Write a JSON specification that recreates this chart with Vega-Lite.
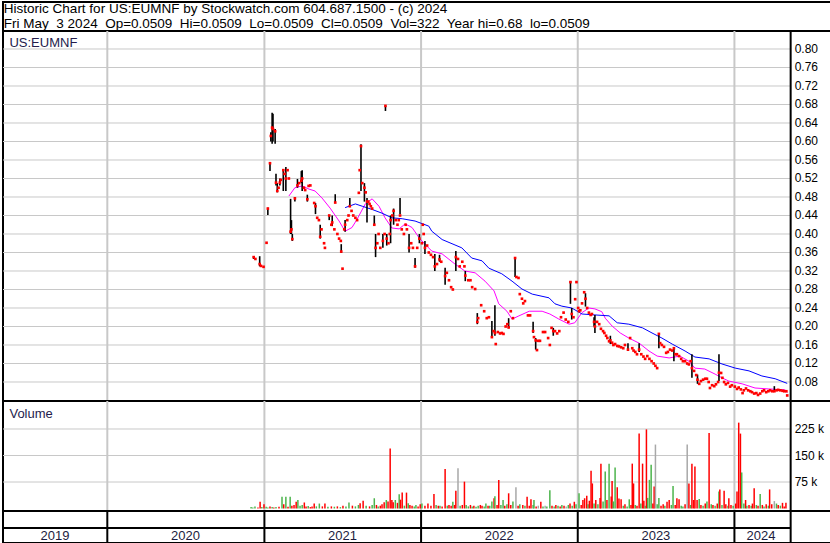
{
  "$schema": "https://vega.github.io/schema/vega-lite/v6.json",
  "padding": 1,
  "spacing": 0,
  "bounds": "flush",
  "background": "#ffffff",
  "resolve": {"scale": {"color": "independent"}},
  "config": {
    "font": "Liberation Sans",
    "view": {"stroke": "#000000", "strokeWidth": 2},
    "text": {"font": "Liberation Sans", "fontSize": 12}
  },
  "datasets": {
    "header": [
      {"row": 1, "txt": "Historic Chart for US:EUMNF by Stockwatch.com 604.687.1500 - (c) 2024"},
      {"row": 2, "txt": "Fri May\u00a0 3 2024\u00a0 Op=0.0509\u00a0 Hi=0.0509\u00a0 Lo=0.0509\u00a0 Cl=0.0509\u00a0 Vol=322\u00a0 Year hi=0.68\u00a0 lo=0.0509"}
    ],
    "pgrid": [
      {"p": 0.08}, {"p": 0.12}, {"p": 0.16}, {"p": 0.20}, {"p": 0.24}, {"p": 0.28}, {"p": 0.32},
      {"p": 0.36}, {"p": 0.40}, {"p": 0.44}, {"p": 0.48}, {"p": 0.52}, {"p": 0.56}, {"p": 0.60},
      {"p": 0.64}, {"p": 0.68}, {"p": 0.72}, {"p": 0.76}, {"p": 0.80}
    ],
    "vgrid": [{"v": 75000, "lab": "75 k"}, {"v": 150000, "lab": "150 k"}, {"v": 225000, "lab": "225 k"}],
    "yearstarts": [{"d": "2020-01-01"}, {"d": "2021-01-01"}, {"d": "2022-01-01"}, {"d": "2023-01-01"}, {"d": "2024-01-01"}],
    "edge": [{"d": "2024-05-11"}],
    "yearlabels": [
      {"d": "2019-09-01", "yr": "2019"},
      {"d": "2020-07-01", "yr": "2020"},
      {"d": "2021-07-02", "yr": "2021"},
      {"d": "2022-07-02", "yr": "2022"},
      {"d": "2023-07-02", "yr": "2023"},
      {"d": "2024-03-03", "yr": "2024"}
    ],
    "prices": [
      {"d":"2020-12-07","h":0.352,"l":0.346,"c":0.35},
      {"d":"2020-12-11","c":0.346},
      {"d":"2020-12-21","h":0.352,"l":0.33,"c":0.335},
      {"d":"2020-12-24","c":0.331},
      {"d":"2020-12-30","c":0.329},
      {"d":"2021-01-06","c":0.381},
      {"d":"2021-01-09","h":0.457,"l":0.441,"c":0.455},
      {"d":"2021-01-14","h":0.553,"l":0.536,"c":0.553},
      {"d":"2021-01-16","h":0.62,"l":0.6,"c":0.612},
      {"d":"2021-01-19","h":0.662,"l":0.595,"c":0.63},
      {"d":"2021-01-21","h":0.66,"l":0.6,"c":0.627},
      {"d":"2021-01-26","h":0.627,"l":0.595,"c":0.622},
      {"d":"2021-01-28","h":0.53,"l":0.505,"c":0.511},
      {"d":"2021-01-31","h":0.51,"l":0.49,"c":0.493},
      {"d":"2021-02-03","c":0.5},
      {"d":"2021-02-06","h":0.52,"l":0.505,"c":0.511},
      {"d":"2021-02-08","c":0.517},
      {"d":"2021-02-14","h":0.54,"l":0.493,"c":0.538},
      {"d":"2021-02-17","c":0.53},
      {"d":"2021-02-20","h":0.545,"l":0.493,"c":0.52},
      {"d":"2021-02-24","c":0.538},
      {"d":"2021-02-27","c":0.52},
      {"d":"2021-03-03","h":0.476,"l":0.4,"c":0.405},
      {"d":"2021-03-05","h":0.43,"l":0.4,"c":0.41},
      {"d":"2021-03-07","h":0.4,"l":0.385,"c":0.389},
      {"d":"2021-03-13","h":0.48,"l":0.47,"c":0.477},
      {"d":"2021-03-19","h":0.519,"l":0.5,"c":0.505},
      {"d":"2021-03-23","c":0.51},
      {"d":"2021-03-28","h":0.536,"l":0.51,"c":0.515},
      {"d":"2021-03-30","h":0.538,"l":0.493,"c":0.52},
      {"d":"2021-04-03","c":0.5},
      {"d":"2021-04-06","c":0.495},
      {"d":"2021-04-11","h":0.485,"l":0.47,"c":0.475},
      {"d":"2021-04-14","c":0.504},
      {"d":"2021-04-18","c":0.505},
      {"d":"2021-04-27","c":0.467},
      {"d":"2021-04-30","h":0.467,"l":0.443,"c":0.46},
      {"d":"2021-05-04","c":0.435},
      {"d":"2021-05-08","c":0.43},
      {"d":"2021-05-11","h":0.42,"l":0.39,"c":0.394},
      {"d":"2021-05-14","c":0.41},
      {"d":"2021-05-20","c":0.38},
      {"d":"2021-05-22","c":0.37},
      {"d":"2021-06-01","h":0.44,"l":0.43,"c":0.44},
      {"d":"2021-06-06","c":0.42},
      {"d":"2021-06-08","h":0.44,"l":0.417,"c":0.425},
      {"d":"2021-06-13","c":0.41},
      {"d":"2021-06-15","h":0.486,"l":0.467,"c":0.468},
      {"d":"2021-06-20","c":0.4},
      {"d":"2021-06-24","c":0.39},
      {"d":"2021-06-28","c":0.385},
      {"d":"2021-06-29","h":0.378,"l":0.359,"c":0.362},
      {"d":"2021-07-02","c":0.325},
      {"d":"2021-07-06","c":0.41},
      {"d":"2021-07-08","h":0.43,"l":0.405,"c":0.42},
      {"d":"2021-07-13","c":0.43},
      {"d":"2021-07-16","c":0.44},
      {"d":"2021-07-19","h":0.478,"l":0.46,"c":0.46},
      {"d":"2021-07-23","c":0.45},
      {"d":"2021-07-27","c":0.44},
      {"d":"2021-08-01","c":0.435},
      {"d":"2021-08-05","c":0.43},
      {"d":"2021-08-09","c":0.489},
      {"d":"2021-08-11","c":0.538},
      {"d":"2021-08-14","h":0.594,"l":0.493,"c":0.59},
      {"d":"2021-08-17","c":0.51},
      {"d":"2021-08-22","h":0.51,"l":0.47,"c":0.5},
      {"d":"2021-08-25","c":0.49},
      {"d":"2021-08-28","h":0.478,"l":0.425,"c":0.47},
      {"d":"2021-08-31","c":0.47},
      {"d":"2021-09-03","c":0.465},
      {"d":"2021-09-06","c":0.46},
      {"d":"2021-09-09","c":0.455},
      {"d":"2021-09-14","h":0.44,"l":0.42,"c":0.42},
      {"d":"2021-09-17","h":0.4,"l":0.35,"c":0.37},
      {"d":"2021-09-21","c":0.38},
      {"d":"2021-09-24","c":0.4},
      {"d":"2021-09-28","c":0.37},
      {"d":"2021-10-04","h":0.4,"l":0.37,"c":0.385},
      {"d":"2021-10-08","c":0.4},
      {"d":"2021-10-10","h":0.677,"l":0.666,"c":0.677},
      {"d":"2021-10-13","h":0.4,"l":0.375,"c":0.39},
      {"d":"2021-10-17","c":0.38},
      {"d":"2021-10-20","c":0.4},
      {"d":"2021-10-22","h":0.44,"l":0.38,"c":0.43},
      {"d":"2021-10-26","c":0.44},
      {"d":"2021-10-29","h":0.455,"l":0.42,"c":0.45},
      {"d":"2021-11-03","c":0.43},
      {"d":"2021-11-07","c":0.42},
      {"d":"2021-11-10","c":0.43},
      {"d":"2021-11-13","h":0.478,"l":0.443,"c":0.44},
      {"d":"2021-11-17","c":0.41},
      {"d":"2021-11-22","c":0.4},
      {"d":"2021-11-26","c":0.42},
      {"d":"2021-11-29","c":0.41},
      {"d":"2021-12-04","h":0.4,"l":0.36,"c":0.37},
      {"d":"2021-12-09","c":0.38},
      {"d":"2021-12-13","c":0.37},
      {"d":"2021-12-18","h":0.348,"l":0.327,"c":0.33},
      {"d":"2021-12-23","c":0.37},
      {"d":"2021-12-28","h":0.4,"l":0.38,"c":0.39},
      {"d":"2022-01-03","c":0.38},
      {"d":"2022-01-05","c":0.42},
      {"d":"2022-01-07","c":0.4},
      {"d":"2022-01-10","h":0.385,"l":0.357,"c":0.37},
      {"d":"2022-01-15","c":0.375},
      {"d":"2022-01-19","c":0.36},
      {"d":"2022-01-24","c":0.355},
      {"d":"2022-01-29","c":0.35},
      {"d":"2022-02-02","h":0.357,"l":0.32,"c":0.33},
      {"d":"2022-02-07","c":0.335},
      {"d":"2022-02-13","h":0.355,"l":0.34,"c":0.345},
      {"d":"2022-02-17","c":0.34},
      {"d":"2022-02-26","h":0.327,"l":0.29,"c":0.309},
      {"d":"2022-03-02","c":0.316},
      {"d":"2022-03-07","c":0.3},
      {"d":"2022-03-12","c":0.285},
      {"d":"2022-03-16","c":0.28},
      {"d":"2022-03-23","h":0.363,"l":0.32,"c":0.35},
      {"d":"2022-03-28","c":0.346},
      {"d":"2022-04-01","c":0.33},
      {"d":"2022-04-07","c":0.34},
      {"d":"2022-04-12","c":0.33},
      {"d":"2022-04-14","h":0.32,"l":0.298,"c":0.31},
      {"d":"2022-04-21","c":0.3},
      {"d":"2022-04-26","c":0.3},
      {"d":"2022-04-30","c":0.285},
      {"d":"2022-05-07","c":0.281},
      {"d":"2022-05-12","h":0.229,"l":0.205,"c":0.21},
      {"d":"2022-05-14","c":0.218},
      {"d":"2022-05-21","c":0.246},
      {"d":"2022-05-28","c":0.233},
      {"d":"2022-06-03","c":0.218},
      {"d":"2022-06-08","c":0.22},
      {"d":"2022-06-15","h":0.212,"l":0.177,"c":0.177},
      {"d":"2022-06-19","c":0.19},
      {"d":"2022-06-22","h":0.246,"l":0.18,"c":0.186},
      {"d":"2022-06-24","c":0.162},
      {"d":"2022-06-29","c":0.188},
      {"d":"2022-07-04","c":0.185},
      {"d":"2022-07-08","c":0.186},
      {"d":"2022-07-12","c":0.184},
      {"d":"2022-07-17","c":0.2},
      {"d":"2022-07-21","c":0.205},
      {"d":"2022-07-24","h":0.218,"l":0.196,"c":0.198},
      {"d":"2022-07-29","c":0.233},
      {"d":"2022-08-03","c":0.218},
      {"d":"2022-08-08","h":0.348,"l":0.307,"c":0.348},
      {"d":"2022-08-11","c":0.307},
      {"d":"2022-08-16","c":0.305},
      {"d":"2022-08-19","c":0.27},
      {"d":"2022-08-24","c":0.26},
      {"d":"2022-08-27","c":0.25},
      {"d":"2022-08-31","c":0.255},
      {"d":"2022-09-07","c":0.224},
      {"d":"2022-09-12","c":0.224},
      {"d":"2022-09-19","h":0.21,"l":0.186,"c":0.19},
      {"d":"2022-09-21","c":0.177},
      {"d":"2022-09-25","h":0.175,"l":0.15,"c":0.17},
      {"d":"2022-09-28","c":0.149},
      {"d":"2022-10-01","c":0.169},
      {"d":"2022-10-05","c":0.169},
      {"d":"2022-10-12","c":0.188},
      {"d":"2022-10-17","c":0.188},
      {"d":"2022-10-24","c":0.175},
      {"d":"2022-10-28","c":0.16},
      {"d":"2022-11-01","c":0.197},
      {"d":"2022-11-05","h":0.197,"l":0.18,"c":0.19},
      {"d":"2022-11-09","c":0.19},
      {"d":"2022-11-14","c":0.185},
      {"d":"2022-11-19","c":0.19},
      {"d":"2022-11-23","c":0.22},
      {"d":"2022-11-29","c":0.23},
      {"d":"2022-12-04","c":0.215},
      {"d":"2022-12-10","c":0.21},
      {"d":"2022-12-15","h":0.298,"l":0.249,"c":0.296},
      {"d":"2022-12-18","h":0.24,"l":0.215,"c":0.227},
      {"d":"2022-12-22","c":0.22},
      {"d":"2022-12-26","c":0.259},
      {"d":"2022-12-29","c":0.296},
      {"d":"2023-01-02","c":0.24},
      {"d":"2023-01-04","c":0.233},
      {"d":"2023-01-07","c":0.235},
      {"d":"2023-01-11","c":0.25},
      {"d":"2023-01-16","c":0.274},
      {"d":"2023-01-19","h":0.272,"l":0.243,"c":0.26},
      {"d":"2023-01-23","c":0.24},
      {"d":"2023-01-27","c":0.23},
      {"d":"2023-01-31","c":0.225},
      {"d":"2023-02-03","c":0.227},
      {"d":"2023-02-08","h":0.22,"l":0.2,"c":0.21},
      {"d":"2023-02-10","h":0.225,"l":0.186,"c":0.2},
      {"d":"2023-02-15","c":0.21},
      {"d":"2023-02-20","c":0.205},
      {"d":"2023-02-24","c":0.195},
      {"d":"2023-03-01","c":0.19},
      {"d":"2023-03-04","c":0.186},
      {"d":"2023-03-08","c":0.18},
      {"d":"2023-03-11","c":0.175},
      {"d":"2023-03-15","c":0.168},
      {"d":"2023-03-18","h":0.18,"l":0.162,"c":0.17},
      {"d":"2023-03-22","c":0.165},
      {"d":"2023-03-25","c":0.16},
      {"d":"2023-03-29","c":0.162},
      {"d":"2023-04-03","c":0.158},
      {"d":"2023-04-07","c":0.157},
      {"d":"2023-04-12","c":0.155},
      {"d":"2023-04-17","c":0.153},
      {"d":"2023-04-21","c":0.16},
      {"d":"2023-04-28","h":0.164,"l":0.147,"c":0.15},
      {"d":"2023-05-03","c":0.175},
      {"d":"2023-05-08","c":0.153},
      {"d":"2023-05-11","c":0.148},
      {"d":"2023-05-15","c":0.145},
      {"d":"2023-05-19","c":0.14},
      {"d":"2023-05-24","h":0.164,"l":0.145,"c":0.15},
      {"d":"2023-05-29","c":0.14},
      {"d":"2023-06-03","c":0.135},
      {"d":"2023-06-07","c":0.13},
      {"d":"2023-06-12","c":0.136},
      {"d":"2023-06-17","c":0.13},
      {"d":"2023-06-22","c":0.125},
      {"d":"2023-06-27","c":0.12},
      {"d":"2023-07-01","c":0.115},
      {"d":"2023-07-05","c":0.11},
      {"d":"2023-07-09","h":0.184,"l":0.153,"c":0.184},
      {"d":"2023-07-12","c":0.164},
      {"d":"2023-07-16","c":0.16},
      {"d":"2023-07-21","c":0.156},
      {"d":"2023-07-26","c":0.143},
      {"d":"2023-07-30","c":0.145},
      {"d":"2023-08-04","c":0.15},
      {"d":"2023-08-09","c":0.148},
      {"d":"2023-08-13","h":0.153,"l":0.125,"c":0.153},
      {"d":"2023-08-17","c":0.14},
      {"d":"2023-08-20","c":0.14},
      {"d":"2023-08-25","c":0.136},
      {"d":"2023-08-30","c":0.13},
      {"d":"2023-09-03","c":0.125},
      {"d":"2023-09-08","c":0.125},
      {"d":"2023-09-13","c":0.12},
      {"d":"2023-09-17","c":0.118},
      {"d":"2023-09-21","c":0.125},
      {"d":"2023-09-24","h":0.14,"l":0.089,"c":0.11},
      {"d":"2023-09-29","c":0.104},
      {"d":"2023-10-04","c":0.095},
      {"d":"2023-10-07","h":0.096,"l":0.076,"c":0.085},
      {"d":"2023-10-11","c":0.076},
      {"d":"2023-10-15","c":0.082},
      {"d":"2023-10-20","c":0.085},
      {"d":"2023-10-25","c":0.087},
      {"d":"2023-10-29","c":0.087},
      {"d":"2023-11-02","c":0.08},
      {"d":"2023-11-05","c":0.067},
      {"d":"2023-11-10","c":0.073},
      {"d":"2023-11-15","c":0.071},
      {"d":"2023-11-19","c":0.075},
      {"d":"2023-11-24","c":0.08},
      {"d":"2023-11-26","h":0.14,"l":0.082,"c":0.1},
      {"d":"2023-12-01","c":0.0995},
      {"d":"2023-12-04","c":0.089},
      {"d":"2023-12-08","c":0.08},
      {"d":"2023-12-12","c":0.075},
      {"d":"2023-12-17","c":0.078},
      {"d":"2023-12-22","c":0.07},
      {"d":"2023-12-26","c":0.073},
      {"d":"2024-01-02","c":0.07},
      {"d":"2024-01-07","c":0.065},
      {"d":"2024-01-11","c":0.068},
      {"d":"2024-01-16","c":0.064},
      {"d":"2024-01-20","c":0.056},
      {"d":"2024-01-23","c":0.062},
      {"d":"2024-01-28","c":0.066},
      {"d":"2024-02-02","c":0.062},
      {"d":"2024-02-07","c":0.06},
      {"d":"2024-02-11","c":0.058},
      {"d":"2024-02-16","c":0.055},
      {"d":"2024-02-21","c":0.056},
      {"d":"2024-02-25","c":0.052},
      {"d":"2024-03-01","c":0.055},
      {"d":"2024-03-06","c":0.06},
      {"d":"2024-03-10","c":0.062},
      {"d":"2024-03-15","c":0.058},
      {"d":"2024-03-20","c":0.06},
      {"d":"2024-03-24","c":0.062},
      {"d":"2024-03-29","c":0.06},
      {"d":"2024-04-03","h":0.071,"l":0.06,"c":0.06},
      {"d":"2024-04-08","c":0.062},
      {"d":"2024-04-12","c":0.063},
      {"d":"2024-04-17","c":0.062},
      {"d":"2024-04-22","c":0.061},
      {"d":"2024-04-26","c":0.06},
      {"d":"2024-05-01","c":0.06},
      {"d":"2024-05-03","c":0.0509}
    ],
    "averages": [
      {"d":"2021-02-27","p":0.482,"s":"short"},
      {"d":"2021-03-13","p":0.5,"s":"short"},
      {"d":"2021-03-30","p":0.504,"s":"short"},
      {"d":"2021-04-15","p":0.497,"s":"short"},
      {"d":"2021-04-29","p":0.493,"s":"short"},
      {"d":"2021-05-15","p":0.478,"s":"short"},
      {"d":"2021-06-03","p":0.456,"s":"short"},
      {"d":"2021-06-24","p":0.428,"s":"short"},
      {"d":"2021-07-08","p":0.406,"s":"short"},
      {"d":"2021-07-24","p":0.414,"s":"short"},
      {"d":"2021-08-05","p":0.432,"s":"short"},
      {"d":"2021-08-24","p":0.465,"s":"short"},
      {"d":"2021-09-09","p":0.476,"s":"short"},
      {"d":"2021-09-25","p":0.46,"s":"short"},
      {"d":"2021-10-09","p":0.435,"s":"short"},
      {"d":"2021-10-25","p":0.413,"s":"short"},
      {"d":"2021-11-11","p":0.411,"s":"short"},
      {"d":"2021-11-25","p":0.422,"s":"short"},
      {"d":"2021-12-11","p":0.414,"s":"short"},
      {"d":"2021-12-28","p":0.391,"s":"short"},
      {"d":"2022-01-08","p":0.38,"s":"short"},
      {"d":"2022-01-26","p":0.363,"s":"short"},
      {"d":"2022-02-19","p":0.357,"s":"short"},
      {"d":"2022-03-21","p":0.335,"s":"short"},
      {"d":"2022-04-13","p":0.32,"s":"short"},
      {"d":"2022-05-07","p":0.316,"s":"short"},
      {"d":"2022-05-30","p":0.298,"s":"short"},
      {"d":"2022-06-20","p":0.277,"s":"short"},
      {"d":"2022-07-01","p":0.249,"s":"short"},
      {"d":"2022-07-20","p":0.233,"s":"short"},
      {"d":"2022-08-01","p":0.216,"s":"short"},
      {"d":"2022-08-17","p":0.223,"s":"short"},
      {"d":"2022-09-10","p":0.233,"s":"short"},
      {"d":"2022-10-10","p":0.233,"s":"short"},
      {"d":"2022-10-28","p":0.227,"s":"short"},
      {"d":"2022-11-18","p":0.216,"s":"short"},
      {"d":"2022-12-12","p":0.205,"s":"short"},
      {"d":"2022-12-25","p":0.208,"s":"short"},
      {"d":"2023-01-11","p":0.23,"s":"short"},
      {"d":"2023-01-27","p":0.24,"s":"short"},
      {"d":"2023-02-10","p":0.238,"s":"short"},
      {"d":"2023-02-26","p":0.232,"s":"short"},
      {"d":"2023-03-06","p":0.218,"s":"short"},
      {"d":"2023-03-22","p":0.201,"s":"short"},
      {"d":"2023-04-10","p":0.186,"s":"short"},
      {"d":"2023-04-30","p":0.175,"s":"short"},
      {"d":"2023-05-24","p":0.164,"s":"short"},
      {"d":"2023-06-16","p":0.147,"s":"short"},
      {"d":"2023-07-05","p":0.136,"s":"short"},
      {"d":"2023-08-02","p":0.132,"s":"short"},
      {"d":"2023-08-27","p":0.136,"s":"short"},
      {"d":"2023-09-17","p":0.125,"s":"short"},
      {"d":"2023-10-01","p":0.11,"s":"short"},
      {"d":"2023-10-24","p":0.108,"s":"short"},
      {"d":"2023-11-17","p":0.097,"s":"short"},
      {"d":"2023-12-03","p":0.089,"s":"short"},
      {"d":"2023-12-19","p":0.082,"s":"short"},
      {"d":"2024-01-19","p":0.076,"s":"short"},
      {"d":"2024-02-18","p":0.067,"s":"short"},
      {"d":"2024-03-21","p":0.065,"s":"short"},
      {"d":"2024-04-28","p":0.063,"s":"short"},
      {"d":"2024-05-03","p":0.057,"s":"short"},
      {"d":"2021-07-08","p":0.457,"s":"long"},
      {"d":"2021-08-01","p":0.465,"s":"long"},
      {"d":"2021-08-17","p":0.46,"s":"long"},
      {"d":"2021-09-09","p":0.453,"s":"long"},
      {"d":"2021-10-02","p":0.445,"s":"long"},
      {"d":"2021-10-25","p":0.435,"s":"long"},
      {"d":"2021-11-18","p":0.433,"s":"long"},
      {"d":"2021-12-18","p":0.428,"s":"long"},
      {"d":"2022-01-19","p":0.417,"s":"long"},
      {"d":"2022-01-26","p":0.406,"s":"long"},
      {"d":"2022-02-19","p":0.388,"s":"long"},
      {"d":"2022-04-06","p":0.37,"s":"long"},
      {"d":"2022-04-29","p":0.348,"s":"long"},
      {"d":"2022-05-23","p":0.342,"s":"long"},
      {"d":"2022-06-08","p":0.326,"s":"long"},
      {"d":"2022-07-08","p":0.314,"s":"long"},
      {"d":"2022-08-01","p":0.298,"s":"long"},
      {"d":"2022-08-24","p":0.281,"s":"long"},
      {"d":"2022-09-17","p":0.27,"s":"long"},
      {"d":"2022-10-26","p":0.262,"s":"long"},
      {"d":"2022-11-09","p":0.249,"s":"long"},
      {"d":"2022-11-25","p":0.244,"s":"long"},
      {"d":"2022-12-18","p":0.24,"s":"long"},
      {"d":"2023-01-11","p":0.227,"s":"long"},
      {"d":"2023-02-10","p":0.225,"s":"long"},
      {"d":"2023-03-15","p":0.223,"s":"long"},
      {"d":"2023-04-03","p":0.208,"s":"long"},
      {"d":"2023-04-30","p":0.205,"s":"long"},
      {"d":"2023-06-01","p":0.197,"s":"long"},
      {"d":"2023-06-23","p":0.186,"s":"long"},
      {"d":"2023-07-16","p":0.175,"s":"long"},
      {"d":"2023-08-09","p":0.162,"s":"long"},
      {"d":"2023-09-08","p":0.147,"s":"long"},
      {"d":"2023-10-01","p":0.134,"s":"long"},
      {"d":"2023-11-03","p":0.13,"s":"long"},
      {"d":"2023-12-03","p":0.119,"s":"long"},
      {"d":"2024-01-03","p":0.11,"s":"long"},
      {"d":"2024-02-04","p":0.104,"s":"long"},
      {"d":"2024-03-05","p":0.093,"s":"long"},
      {"d":"2024-04-05","p":0.087,"s":"long"},
      {"d":"2024-05-03","p":0.077,"s":"long"}
    ],
    "volumes": [
      {"d":"2020-12-01","v":4000,"t":"up"},
      {"d":"2020-12-05","v":3000,"t":"up"},
      {"d":"2020-12-10","v":6000,"t":"up"},
      {"d":"2020-12-17","v":3000,"t":"down"},
      {"d":"2020-12-22","v":19000,"t":"down"},
      {"d":"2020-12-26","v":4000,"t":"up"},
      {"d":"2020-12-31","v":12000,"t":"down"},
      {"d":"2021-01-05","v":5000,"t":"up"},
      {"d":"2021-01-09","v":3000,"t":"up"},
      {"d":"2021-01-14","v":6000,"t":"down"},
      {"d":"2021-01-19","v":4000,"t":"up"},
      {"d":"2021-01-23","v":3000,"t":"down"},
      {"d":"2021-01-28","v":4000,"t":"up"},
      {"d":"2021-02-04","v":5000,"t":"down"},
      {"d":"2021-02-11","v":33000,"t":"up"},
      {"d":"2021-02-15","v":12000,"t":"down"},
      {"d":"2021-02-20","v":33000,"t":"up"},
      {"d":"2021-02-25","v":5000,"t":"down"},
      {"d":"2021-03-02","v":33000,"t":"up"},
      {"d":"2021-03-06","v":8000,"t":"down"},
      {"d":"2021-03-11","v":10000,"t":"down"},
      {"d":"2021-03-16","v":19000,"t":"down"},
      {"d":"2021-03-20","v":24000,"t":"up"},
      {"d":"2021-03-25","v":8000,"t":"up"},
      {"d":"2021-03-30","v":10000,"t":"up"},
      {"d":"2021-04-04","v":17000,"t":"down"},
      {"d":"2021-04-08","v":6000,"t":"down"},
      {"d":"2021-04-13","v":7000,"t":"up"},
      {"d":"2021-04-18","v":4000,"t":"down"},
      {"d":"2021-04-22","v":6000,"t":"down"},
      {"d":"2021-04-27","v":14000,"t":"down"},
      {"d":"2021-05-02","v":6000,"t":"up"},
      {"d":"2021-05-09","v":14000,"t":"up"},
      {"d":"2021-05-16","v":6000,"t":"down"},
      {"d":"2021-05-22","v":14000,"t":"down"},
      {"d":"2021-05-29","v":5000,"t":"up"},
      {"d":"2021-06-06","v":6000,"t":"down"},
      {"d":"2021-06-13","v":5000,"t":"up"},
      {"d":"2021-06-20","v":6000,"t":"down"},
      {"d":"2021-06-27","v":4000,"t":"up"},
      {"d":"2021-07-03","v":8000,"t":"down"},
      {"d":"2021-07-10","v":6000,"t":"up"},
      {"d":"2021-07-17","v":17000,"t":"up"},
      {"d":"2021-07-25","v":8000,"t":"down"},
      {"d":"2021-08-01","v":6000,"t":"up"},
      {"d":"2021-08-08","v":10000,"t":"up"},
      {"d":"2021-08-12","v":15000,"t":"down"},
      {"d":"2021-08-19","v":22000,"t":"down"},
      {"d":"2021-08-26","v":8000,"t":"up"},
      {"d":"2021-09-03","v":6000,"t":"down"},
      {"d":"2021-09-09","v":10000,"t":"up"},
      {"d":"2021-09-14","v":29000,"t":"up"},
      {"d":"2021-09-19","v":10000,"t":"down"},
      {"d":"2021-09-23","v":6000,"t":"up"},
      {"d":"2021-09-28","v":8000,"t":"down"},
      {"d":"2021-10-02","v":12000,"t":"down"},
      {"d":"2021-10-07","v":18000,"t":"down"},
      {"d":"2021-10-12","v":24000,"t":"up"},
      {"d":"2021-10-16","v":20000,"t":"down"},
      {"d":"2021-10-21","v":170000,"t":"down"},
      {"d":"2021-10-25","v":24000,"t":"down"},
      {"d":"2021-10-28","v":18000,"t":"down"},
      {"d":"2021-11-02","v":24000,"t":"up"},
      {"d":"2021-11-07","v":16000,"t":"down"},
      {"d":"2021-11-11","v":40000,"t":"up"},
      {"d":"2021-11-14","v":25000,"t":"down"},
      {"d":"2021-11-18","v":45000,"t":"down"},
      {"d":"2021-11-23","v":8000,"t":"up"},
      {"d":"2021-11-28","v":45000,"t":"down"},
      {"d":"2021-12-02","v":15000,"t":"up"},
      {"d":"2021-12-06","v":10000,"t":"down"},
      {"d":"2021-12-11","v":8000,"t":"down"},
      {"d":"2021-12-16","v":6000,"t":"up"},
      {"d":"2021-12-20","v":10000,"t":"up"},
      {"d":"2021-12-25","v":6000,"t":"down"},
      {"d":"2021-12-30","v":12000,"t":"down"},
      {"d":"2022-01-03","v":14000,"t":"up"},
      {"d":"2022-01-10","v":8000,"t":"down"},
      {"d":"2022-01-17","v":14000,"t":"down"},
      {"d":"2022-01-24","v":8000,"t":"down"},
      {"d":"2022-01-31","v":41000,"t":"down"},
      {"d":"2022-02-05","v":10000,"t":"up"},
      {"d":"2022-02-10","v":8000,"t":"down"},
      {"d":"2022-02-14","v":8000,"t":"up"},
      {"d":"2022-02-19","v":6000,"t":"down"},
      {"d":"2022-02-26","v":112000,"t":"down"},
      {"d":"2022-03-03","v":8000,"t":"up"},
      {"d":"2022-03-07","v":10000,"t":"down"},
      {"d":"2022-03-12","v":8000,"t":"down"},
      {"d":"2022-03-16","v":19000,"t":"up"},
      {"d":"2022-03-20","v":10000,"t":"down"},
      {"d":"2022-03-23","v":50000,"t":"down"},
      {"d":"2022-03-28","v":114000,"t":"flat"},
      {"d":"2022-04-02","v":8000,"t":"up"},
      {"d":"2022-04-07","v":10000,"t":"down"},
      {"d":"2022-04-12","v":76000,"t":"down"},
      {"d":"2022-04-16","v":10000,"t":"up"},
      {"d":"2022-04-21","v":6000,"t":"up"},
      {"d":"2022-04-26","v":10000,"t":"down"},
      {"d":"2022-04-30","v":6000,"t":"up"},
      {"d":"2022-05-04","v":8000,"t":"down"},
      {"d":"2022-05-09","v":5000,"t":"up"},
      {"d":"2022-05-14","v":8000,"t":"up"},
      {"d":"2022-05-19","v":10000,"t":"down"},
      {"d":"2022-05-23","v":8000,"t":"down"},
      {"d":"2022-05-28","v":6000,"t":"up"},
      {"d":"2022-06-01","v":14000,"t":"up"},
      {"d":"2022-06-06","v":8000,"t":"down"},
      {"d":"2022-06-10","v":8000,"t":"up"},
      {"d":"2022-06-15","v":20000,"t":"up"},
      {"d":"2022-06-20","v":29000,"t":"down"},
      {"d":"2022-06-22","v":35000,"t":"up"},
      {"d":"2022-06-27","v":10000,"t":"down"},
      {"d":"2022-07-01","v":81000,"t":"down"},
      {"d":"2022-07-06","v":10000,"t":"up"},
      {"d":"2022-07-11","v":24000,"t":"up"},
      {"d":"2022-07-15","v":8000,"t":"down"},
      {"d":"2022-07-20","v":12000,"t":"up"},
      {"d":"2022-07-24","v":43000,"t":"down"},
      {"d":"2022-07-29","v":10000,"t":"down"},
      {"d":"2022-08-03","v":20000,"t":"up"},
      {"d":"2022-08-10","v":60000,"t":"flat"},
      {"d":"2022-08-15","v":8000,"t":"down"},
      {"d":"2022-08-19","v":12000,"t":"up"},
      {"d":"2022-08-26","v":10000,"t":"down"},
      {"d":"2022-08-31","v":8000,"t":"up"},
      {"d":"2022-09-05","v":33000,"t":"down"},
      {"d":"2022-09-10","v":8000,"t":"down"},
      {"d":"2022-09-14","v":26000,"t":"down"},
      {"d":"2022-09-19","v":10000,"t":"up"},
      {"d":"2022-09-21","v":24000,"t":"up"},
      {"d":"2022-09-26","v":6000,"t":"down"},
      {"d":"2022-10-01","v":8000,"t":"flat"},
      {"d":"2022-10-07","v":19000,"t":"down"},
      {"d":"2022-10-12","v":6000,"t":"up"},
      {"d":"2022-10-17","v":8000,"t":"flat"},
      {"d":"2022-10-21","v":6000,"t":"up"},
      {"d":"2022-10-28","v":52000,"t":"up"},
      {"d":"2022-11-02","v":8000,"t":"down"},
      {"d":"2022-11-07","v":6000,"t":"up"},
      {"d":"2022-11-11","v":10000,"t":"down"},
      {"d":"2022-11-16","v":8000,"t":"up"},
      {"d":"2022-11-21","v":6000,"t":"down"},
      {"d":"2022-11-25","v":10000,"t":"up"},
      {"d":"2022-11-30","v":8000,"t":"down"},
      {"d":"2022-12-05","v":6000,"t":"flat"},
      {"d":"2022-12-10","v":10000,"t":"up"},
      {"d":"2022-12-14","v":14000,"t":"down"},
      {"d":"2022-12-19","v":8000,"t":"up"},
      {"d":"2022-12-24","v":19000,"t":"down"},
      {"d":"2022-12-28","v":12000,"t":"up"},
      {"d":"2023-01-04","v":43000,"t":"up"},
      {"d":"2023-01-09","v":10000,"t":"down"},
      {"d":"2023-01-13","v":24000,"t":"down"},
      {"d":"2023-01-17","v":29000,"t":"down"},
      {"d":"2023-01-22","v":36000,"t":"down"},
      {"d":"2023-01-25","v":12000,"t":"up"},
      {"d":"2023-01-28","v":22000,"t":"down"},
      {"d":"2023-02-01","v":107000,"t":"down"},
      {"d":"2023-02-04","v":71000,"t":"down"},
      {"d":"2023-02-08","v":14000,"t":"up"},
      {"d":"2023-02-12","v":24000,"t":"down"},
      {"d":"2023-02-17","v":12000,"t":"up"},
      {"d":"2023-02-22","v":30000,"t":"down"},
      {"d":"2023-02-24","v":127000,"t":"down"},
      {"d":"2023-03-01","v":20000,"t":"up"},
      {"d":"2023-03-06","v":105000,"t":"up"},
      {"d":"2023-03-10","v":24000,"t":"down"},
      {"d":"2023-03-15","v":127000,"t":"up"},
      {"d":"2023-03-20","v":34000,"t":"down"},
      {"d":"2023-03-22","v":78000,"t":"down"},
      {"d":"2023-03-25","v":20000,"t":"up"},
      {"d":"2023-03-29","v":116000,"t":"up"},
      {"d":"2023-04-03","v":60000,"t":"down"},
      {"d":"2023-04-07","v":28000,"t":"down"},
      {"d":"2023-04-12","v":26000,"t":"down"},
      {"d":"2023-04-17","v":8000,"t":"up"},
      {"d":"2023-04-21","v":12000,"t":"down"},
      {"d":"2023-04-26","v":6000,"t":"up"},
      {"d":"2023-05-01","v":26000,"t":"up"},
      {"d":"2023-05-05","v":10000,"t":"down"},
      {"d":"2023-05-08","v":127000,"t":"down"},
      {"d":"2023-05-11","v":71000,"t":"down"},
      {"d":"2023-05-15","v":10000,"t":"up"},
      {"d":"2023-05-19","v":8000,"t":"down"},
      {"d":"2023-05-24","v":212000,"t":"down"},
      {"d":"2023-05-28","v":14000,"t":"up"},
      {"d":"2023-06-01","v":127000,"t":"down"},
      {"d":"2023-06-04","v":22000,"t":"down"},
      {"d":"2023-06-07","v":8000,"t":"up"},
      {"d":"2023-06-10","v":224000,"t":"down"},
      {"d":"2023-06-13","v":30000,"t":"up"},
      {"d":"2023-06-17","v":81000,"t":"up"},
      {"d":"2023-06-21","v":124000,"t":"up"},
      {"d":"2023-06-25","v":14000,"t":"down"},
      {"d":"2023-06-28","v":62000,"t":"down"},
      {"d":"2023-07-01","v":181000,"t":"flat"},
      {"d":"2023-07-05","v":12000,"t":"up"},
      {"d":"2023-07-09","v":30000,"t":"up"},
      {"d":"2023-07-14","v":8000,"t":"down"},
      {"d":"2023-07-19","v":12000,"t":"down"},
      {"d":"2023-07-23","v":8000,"t":"up"},
      {"d":"2023-07-28","v":19000,"t":"down"},
      {"d":"2023-08-02","v":24000,"t":"down"},
      {"d":"2023-08-07","v":10000,"t":"up"},
      {"d":"2023-08-11","v":64000,"t":"up"},
      {"d":"2023-08-16","v":10000,"t":"down"},
      {"d":"2023-08-20","v":29000,"t":"down"},
      {"d":"2023-08-25","v":26000,"t":"down"},
      {"d":"2023-08-30","v":8000,"t":"up"},
      {"d":"2023-09-03","v":6000,"t":"up"},
      {"d":"2023-09-08","v":12000,"t":"down"},
      {"d":"2023-09-13","v":181000,"t":"flat"},
      {"d":"2023-09-17","v":71000,"t":"down"},
      {"d":"2023-09-21","v":10000,"t":"up"},
      {"d":"2023-09-24","v":127000,"t":"down"},
      {"d":"2023-09-28","v":24000,"t":"down"},
      {"d":"2023-10-01","v":119000,"t":"down"},
      {"d":"2023-10-06","v":24000,"t":"down"},
      {"d":"2023-10-11","v":27000,"t":"up"},
      {"d":"2023-10-15","v":10000,"t":"down"},
      {"d":"2023-10-20","v":8000,"t":"up"},
      {"d":"2023-10-25","v":14000,"t":"down"},
      {"d":"2023-10-29","v":20000,"t":"up"},
      {"d":"2023-11-03","v":214000,"t":"down"},
      {"d":"2023-11-08","v":12000,"t":"up"},
      {"d":"2023-11-12","v":10000,"t":"down"},
      {"d":"2023-11-17","v":8000,"t":"up"},
      {"d":"2023-11-22","v":14000,"t":"down"},
      {"d":"2023-11-26","v":48000,"t":"up"},
      {"d":"2023-11-28","v":54000,"t":"down"},
      {"d":"2023-12-03","v":10000,"t":"up"},
      {"d":"2023-12-08","v":50000,"t":"down"},
      {"d":"2023-12-12","v":12000,"t":"down"},
      {"d":"2023-12-17","v":8000,"t":"up"},
      {"d":"2023-12-19","v":29000,"t":"down"},
      {"d":"2023-12-24","v":10000,"t":"down"},
      {"d":"2023-12-29","v":8000,"t":"up"},
      {"d":"2024-01-04","v":14000,"t":"down"},
      {"d":"2024-01-07","v":48000,"t":"down"},
      {"d":"2024-01-11","v":243000,"t":"down"},
      {"d":"2024-01-15","v":212000,"t":"down"},
      {"d":"2024-01-18","v":102000,"t":"up"},
      {"d":"2024-01-23","v":14000,"t":"up"},
      {"d":"2024-01-27","v":24000,"t":"down"},
      {"d":"2024-01-30","v":8000,"t":"up"},
      {"d":"2024-02-04","v":10000,"t":"down"},
      {"d":"2024-02-09","v":8000,"t":"up"},
      {"d":"2024-02-12","v":14000,"t":"down"},
      {"d":"2024-02-16","v":57000,"t":"down"},
      {"d":"2024-02-21","v":10000,"t":"up"},
      {"d":"2024-02-25","v":8000,"t":"down"},
      {"d":"2024-03-01","v":41000,"t":"up"},
      {"d":"2024-03-06","v":10000,"t":"down"},
      {"d":"2024-03-10","v":6000,"t":"up"},
      {"d":"2024-03-15","v":12000,"t":"down"},
      {"d":"2024-03-20","v":8000,"t":"up"},
      {"d":"2024-03-23","v":54000,"t":"down"},
      {"d":"2024-03-28","v":12000,"t":"down"},
      {"d":"2024-04-03","v":21000,"t":"flat"},
      {"d":"2024-04-08","v":14000,"t":"up"},
      {"d":"2024-04-12","v":10000,"t":"down"},
      {"d":"2024-04-17","v":8000,"t":"up"},
      {"d":"2024-04-22","v":16000,"t":"down"},
      {"d":"2024-04-26","v":6000,"t":"down"},
      {"d":"2024-04-30","v":16000,"t":"down"},
      {"d":"2024-05-03","v":322,"t":"flat"}
    ]
  },
  "vconcat": [
    {
      "width": 828,
      "height": 29,
      "data": {"name": "header"},
      "mark": {"type": "text", "align": "left", "baseline": "middle", "fontSize": 13.5, "color": "#000000"},
      "encoding": {
        "x": {"datum": {"year": 2019, "month": 5, "date": 5, "utc": true}, "type": "temporal",
              "scale": {"type": "utc", "nice": false, "domain": [{"year": 2019, "month": 5, "date": 3, "utc": true}, {"year": 2024, "month": 8, "date": 13, "utc": true}]}, "axis": null},
        "y": {"field": "row", "type": "ordinal", "scale": {"type": "point", "padding": 0.5}, "axis": null},
        "text": {"field": "txt"}
      }
    },
    {
      "width": 828,
      "height": 370,
      "layer": [
        {
          "data": {"name": "pgrid"},
          "mark": {"type": "rule", "color": "#c8c8c8", "strokeWidth": 1},
          "encoding": {
            "y": {"field": "p", "type": "quantitative", "scale": {"domain": [0.0389, 0.8389], "nice": false, "zero": false}, "axis": null},
            "x": {"datum": {"year": 2019, "month": 5, "date": 3, "utc": true}, "type": "temporal",
                  "scale": {"type": "utc", "nice": false, "domain": [{"year": 2019, "month": 5, "date": 3, "utc": true}, {"year": 2024, "month": 8, "date": 13, "utc": true}]}, "axis": null},
            "x2": {"datum": {"year": 2024, "month": 5, "date": 11, "utc": true}}
          }
        },
        {
          "data": {"name": "pgrid"},
          "mark": {"type": "text", "align": "left", "baseline": "middle", "fontSize": 12, "dx": 4, "color": "#000000"},
          "encoding": {
            "y": {"field": "p", "type": "quantitative", "axis": null},
            "x": {"datum": {"year": 2024, "month": 5, "date": 11, "utc": true}, "type": "temporal", "axis": null},
            "text": {"field": "p", "type": "quantitative", "format": ".2f"}
          }
        },
        {
          "data": {"name": "yearstarts"},
          "mark": {"type": "rule", "color": "#c8c8c8", "strokeWidth": 2},
          "encoding": {"x": {"field": "d", "type": "temporal", "axis": null}}
        },
        {
          "data": {"name": "edge"},
          "mark": {"type": "rule", "color": "#000000", "strokeWidth": 2},
          "encoding": {"x": {"field": "d", "type": "temporal", "axis": null}}
        },
        {
          "data": {"name": "averages"},
          "mark": {"type": "line", "strokeWidth": 1, "interpolate": "linear"},
          "encoding": {
            "x": {"field": "d", "type": "temporal", "axis": null},
            "y": {"field": "p", "type": "quantitative", "axis": null},
            "color": {"field": "s", "type": "nominal", "scale": {"domain": ["short", "long"], "range": ["#ff00ff", "#0000ff"]}, "legend": null}
          }
        },
        {
          "data": {"name": "prices"},
          "transform": [{"filter": "isValid(datum.h)"}],
          "mark": {"type": "rule", "color": "#000000", "strokeWidth": 1.6},
          "encoding": {
            "x": {"field": "d", "type": "temporal", "axis": null},
            "y": {"field": "h", "type": "quantitative", "axis": null},
            "y2": {"field": "l"}
          }
        },
        {
          "data": {"name": "prices"},
          "mark": {"type": "point", "shape": "square", "filled": true, "size": 7, "color": "#ff0000", "opacity": 1},
          "encoding": {
            "x": {"field": "d", "type": "temporal", "axis": null},
            "y": {"field": "c", "type": "quantitative", "axis": null}
          }
        },
        {
          "data": {"values": [{"label": "US:EUMNF"}]},
          "mark": {"type": "text", "align": "left", "baseline": "middle", "fontSize": 13, "color": "#241c4c"},
          "encoding": {
            "x": {"datum": {"year": 2019, "month": 5, "date": 18, "utc": true}, "type": "temporal", "axis": null},
            "y": {"datum": 0.813, "type": "quantitative", "axis": null},
            "text": {"field": "label"}
          }
        }
      ]
    },
    {
      "width": 828,
      "height": 110,
      "layer": [
        {
          "data": {"name": "vgrid"},
          "mark": {"type": "rule", "color": "#c8c8c8", "strokeWidth": 1},
          "encoding": {
            "y": {"field": "v", "type": "quantitative", "scale": {"domain": [-7075, 304245], "nice": false, "zero": false}, "axis": null},
            "x": {"datum": {"year": 2019, "month": 5, "date": 3, "utc": true}, "type": "temporal",
                  "scale": {"type": "utc", "nice": false, "domain": [{"year": 2019, "month": 5, "date": 3, "utc": true}, {"year": 2024, "month": 8, "date": 13, "utc": true}]}, "axis": null},
            "x2": {"datum": {"year": 2024, "month": 5, "date": 11, "utc": true}}
          }
        },
        {
          "data": {"name": "vgrid"},
          "mark": {"type": "text", "align": "left", "baseline": "middle", "fontSize": 12, "dx": 4, "color": "#000000"},
          "encoding": {
            "y": {"field": "v", "type": "quantitative", "axis": null},
            "x": {"datum": {"year": 2024, "month": 5, "date": 11, "utc": true}, "type": "temporal", "axis": null},
            "text": {"field": "lab"}
          }
        },
        {
          "data": {"name": "yearstarts"},
          "mark": {"type": "rule", "color": "#c8c8c8", "strokeWidth": 2},
          "encoding": {"x": {"field": "d", "type": "temporal", "axis": null}}
        },
        {
          "data": {"name": "edge"},
          "mark": {"type": "rule", "color": "#000000", "strokeWidth": 2},
          "encoding": {"x": {"field": "d", "type": "temporal", "axis": null}}
        },
        {
          "data": {"name": "volumes"},
          "mark": {"type": "rule", "strokeWidth": 1.5},
          "encoding": {
            "x": {"field": "d", "type": "temporal", "axis": null},
            "y": {"field": "v", "type": "quantitative", "axis": null},
            "y2": {"datum": 0},
            "color": {"field": "t", "type": "nominal", "scale": {"domain": ["up", "down", "flat"], "range": ["#4cb44c", "#ff0000", "#a8a8a8"]}, "legend": null}
          }
        },
        {
          "data": {"values": [{"label": "Volume"}]},
          "mark": {"type": "text", "align": "left", "baseline": "middle", "fontSize": 13, "color": "#241c4c"},
          "encoding": {
            "x": {"datum": {"year": 2019, "month": 5, "date": 18, "utc": true}, "type": "temporal", "axis": null},
            "y": {"datum": 267000, "type": "quantitative", "axis": null},
            "text": {"field": "label"}
          }
        }
      ]
    },
    {
      "width": 828,
      "height": 32,
      "layer": [
        {
          "data": {"name": "yearstarts"},
          "mark": {"type": "rule", "color": "#000000", "strokeWidth": 2},
          "encoding": {"x": {"field": "d", "type": "temporal",
                  "scale": {"type": "utc", "nice": false, "domain": [{"year": 2019, "month": 5, "date": 3, "utc": true}, {"year": 2024, "month": 8, "date": 13, "utc": true}]}, "axis": null}}
        },
        {
          "data": {"name": "edge"},
          "mark": {"type": "rule", "color": "#000000", "strokeWidth": 2},
          "encoding": {"x": {"field": "d", "type": "temporal", "axis": null}}
        },
        {
          "data": {"name": "edge"},
          "mark": {"type": "rule", "color": "#000000", "strokeWidth": 2},
          "encoding": {
            "x": {"datum": {"year": 2019, "month": 5, "date": 3, "utc": true}, "type": "temporal", "axis": null},
            "x2": {"datum": {"year": 2024, "month": 5, "date": 11, "utc": true}},
            "y": {"datum": 0.47, "type": "quantitative", "scale": {"domain": [0, 1], "nice": false, "zero": false}, "axis": null}
          }
        },
        {
          "data": {"name": "yearlabels"},
          "mark": {"type": "text", "align": "center", "baseline": "middle", "fontSize": 13, "color": "#1c1c40"},
          "encoding": {
            "x": {"field": "d", "type": "temporal", "axis": null},
            "y": {"datum": 0.23, "type": "quantitative", "axis": null},
            "text": {"field": "yr"}
          }
        }
      ]
    }
  ]
}
